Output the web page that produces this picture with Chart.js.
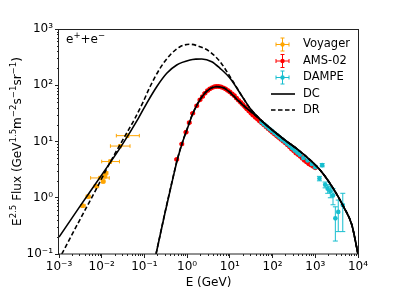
<!DOCTYPE html>
<html>
<head>
<meta charset="utf-8">
<script src="https://cdn.jsdelivr.net/npm/chart.js@4.4.0/dist/chart.umd.min.js"></script>
<style>
  html, body { margin: 0; padding: 0; background: #fff; }
  #wrap { width: 399px; height: 299px; }
</style>
</head>
<body>
<div id="wrap"><canvas id="fluxChart" width="399" height="299"></canvas></div>
<script>
// axis ticks
const xTicks = [1e-3, 1e-2, 1e-1, 1, 10, 100, 1e3, 1e4];
const xTickLabels = ['10⁻³', '10⁻²', '10⁻¹', '10⁰', '10¹', '10²', '10³', '10⁴'];
const yTicks = [0.1, 1, 10, 100, 1000];
const yTickLabels = ['10⁻¹', '10⁰', '10¹', '10²', '10³'];

// Voyager (E in GeV, flux, E range, flux error)
const voyagerE = [0.0036, 0.0048, 0.0075, 0.0092, 0.0108, 0.0118, 0.0125, 0.0158, 0.027, 0.040];
const voyagerFlux = [0.72, 1.05, 1.6, 2.25, 1.95, 2.4, 2.75, 4.4, 8.3, 12.7];
const voyagerELo = [0.0032, 0.0043, 0.0066, 0.0055, 0.0098, 0.0105, 0.011, 0.010, 0.016, 0.022];
const voyagerEHi = [0.0041, 0.0054, 0.0085, 0.015, 0.0120, 0.0132, 0.014, 0.026, 0.046, 0.076];
const voyagerErr = [0.05, 0.07, 0.1, 0.15, 0.13, 0.16, 0.18, 0.3, 0.55, 0.85];

// AMS-02
const amsE = [0.57, 0.75, 0.94, 1.12, 1.35, 1.68, 2.0, 2.3, 2.6, 3.0, 3.4, 3.9, 4.4, 4.9, 5.5, 6.2, 7.0, 7.9, 8.9, 10,
  11.3, 12.7, 14.3, 16, 18, 20, 22.5, 25, 28, 31.5, 35, 40, 45, 50, 56, 63, 71, 80, 90, 100,
  112, 126, 141, 158, 178, 200, 224, 252, 282, 316, 355, 400, 450, 500, 560, 630, 710, 800, 900, 1000];
const amsFlux = [4.8, 9.0, 14.6, 21.6, 31.7, 43, 55, 63, 72, 80, 86, 91, 94, 95, 95, 93, 90, 86, 81, 76,
  70, 65, 59, 54, 49.5, 45.5, 41.5, 38, 34.8, 31.8, 29.2, 26.7, 24.8, 23.0, 21.3, 19.7, 18.1, 16.7, 15.5, 14.5,
  13.5, 12.5, 11.7, 10.9, 10.1, 9.4, 8.7, 8.0, 7.3, 6.8, 6.2, 5.8, 5.4, 5.0, 4.6, 4.3, 4.0, 3.8, 3.6, 3.4];

// DAMPE
const dampeE = [55, 63, 72, 83, 95, 110, 126, 145, 166, 191, 219, 251, 289, 331, 380, 437, 525, 661, 832, 1000,
  1250, 1450, 1700, 1950, 2250, 2600, 2950, 3450, 4400];
const dampeFlux = [22.2, 20.3, 18.5, 16.9, 15.5, 14.2, 13.0, 11.9, 10.9, 10.0, 9.1, 8.4, 7.6, 6.9, 6.35, 5.8, 5.1, 4.6, 4.0, 3.5,
  2.2, 3.8, 1.7, 1.45, 1.3, 1.1, 0.43, 0.56, 0.74];
const dampeErrLo = [0.5, 0.5, 0.4, 0.4, 0.4, 0.35, 0.3, 0.3, 0.3, 0.3, 0.25, 0.25, 0.25, 0.25, 0.25, 0.25, 0.25, 0.25, 0.2, 0.2,
  0.2, 0.25, 0.2, 0.25, 0.3, 0.35, 0.26, 0.31, 0.49];
const dampeErrHi = [0.5, 0.5, 0.4, 0.4, 0.4, 0.35, 0.3, 0.3, 0.3, 0.3, 0.25, 0.25, 0.25, 0.25, 0.25, 0.25, 0.25, 0.25, 0.2, 0.2,
  0.2, 0.25, 0.2, 0.25, 0.3, 0.35, 0.26, 0.35, 0.46];

// model curves: interstellar (LIS) and modulated, DC and DR
const lisDcE = [0.001, 0.003, 0.01, 0.03, 0.072, 0.113, 0.194, 0.333, 0.57, 1.17, 1.6, 2.2, 3.77, 5.9, 10.1, 20.7, 29, 67, 195, 402, 1294, 2650, 4550, 7160, 10000];
const lisDcFlux = [0.2, 0.68, 2.55, 8.7, 25.8, 47.8, 94, 163, 229, 281, 291, 293, 262, 200, 133, 58.6, 40, 20.5, 10.6, 7.06, 3.11, 1.45, 0.7, 0.33, 0.1];
const lisDrE = [0.00116, 0.0031, 0.007, 0.0156, 0.035, 0.060, 0.094, 0.135, 0.232, 0.40, 0.68, 1.17, 2.0, 3.4, 5.9, 10.1, 20.7, 29, 67, 195, 402, 1294, 2650, 4550, 7160, 10000];
const lisDrFlux = [0.1, 0.41, 1.3, 4.2, 12.5, 25.8, 51, 94, 200, 345, 484, 535, 484, 395, 262, 142, 58.6, 40, 20.5, 10.6, 7.06, 3.11, 1.45, 0.7, 0.33, 0.1];
const modE = [0.187, 0.3, 0.45, 0.6, 0.8, 1.0, 1.35, 2.0, 3.0, 4.9, 7.0, 10, 15, 23, 35, 67, 195, 402, 1294, 2650, 4550, 7160, 10000];
const modDcFlux = [0.1, 0.52, 2.0, 5.0, 10.3, 16.5, 31, 55, 80, 94, 90, 75, 55, 41, 31.5, 20.5, 10.6, 7.06, 3.11, 1.45, 0.7, 0.33, 0.1];
const modDrFlux = [0.1, 0.53, 2.05, 5.1, 10.5, 16.8, 31.5, 56, 81, 95, 91, 76, 55.5, 41, 31.5, 20.5, 10.6, 7.06, 3.11, 1.45, 0.7, 0.33, 0.1];

const ORANGE = '#ffa500', RED = '#ff0000', CYAN = '#17becf';
const FONT = '"DejaVu Sans", sans-serif';

const pts = (xs, ys) => xs.map((v, i) => ({ x: v, y: ys[i] }));

const lineDs = (label, xs, ys, dash) => ({
  label: label, data: pts(xs, ys), showLine: true, borderColor: '#000', borderWidth: 1.6,
  borderDash: dash, pointRadius: 0, cubicInterpolationMode: 'monotone', fill: false
});

// error bars, drawn under the datasets
const errorBars = {
  id: 'errorBars',
  beforeDatasetsDraw(chart) {
    const { ctx, chartArea: a, scales: { x, y } } = chart;
    ctx.save();
    ctx.beginPath();
    ctx.rect(a.left, a.top, a.right - a.left, a.bottom - a.top);
    ctx.clip();
    // last dataset first, same order as the markers
    chart.data.datasets.slice().reverse().forEach(ds => {
      const e = ds.errors;
      if (!e) return;
      ctx.strokeStyle = ds.backgroundColor;
      ctx.lineWidth = 1;
      const cap = e.cap;
      ds.data.forEach((p, i) => {
        const px = x.getPixelForValue(p.x), py = y.getPixelForValue(p.y);
        ctx.beginPath();
        if (e.xLo) {
          const x0 = x.getPixelForValue(e.xLo[i]), x1 = x.getPixelForValue(e.xHi[i]);
          ctx.moveTo(x0, py); ctx.lineTo(x1, py);
          ctx.moveTo(x0, py - cap); ctx.lineTo(x0, py + cap);
          ctx.moveTo(x1, py - cap); ctx.lineTo(x1, py + cap);
        }
        const lo = e.yLo[i], hi = e.yHi[i];
        const y0 = y.getPixelForValue(p.y - lo), y1 = y.getPixelForValue(p.y + hi);
        ctx.moveTo(px, y0); ctx.lineTo(px, y1);
        ctx.moveTo(px - cap, y0); ctx.lineTo(px + cap, y0);
        ctx.moveTo(px - cap, y1); ctx.lineTo(px + cap, y1);
        ctx.stroke();
      });
    });
    ctx.restore();
  }
};

function drawParts(ctx, parts, x, y, size, supSize, raise) {
  parts.forEach(([t, sup]) => {
    ctx.font = (sup ? supSize : size) + 'px ' + FONT;
    ctx.fillText(t, x, sup ? y - raise : y);
    x += ctx.measureText(t).width;
  });
}
function partsWidth(ctx, parts, size, supSize) {
  let w = 0;
  parts.forEach(([t, sup]) => { ctx.font = (sup ? supSize : size) + 'px ' + FONT; w += ctx.measureText(t).width; });
  return w;
}

// frame, minor ticks, titles, annotation, legend
const decorations = {
  id: 'decorations',
  afterDraw(chart) {
    const { ctx, chartArea: a, scales: { x, y } } = chart;
    ctx.save();
    ctx.strokeStyle = '#222';
    ctx.lineWidth = 1;
    ctx.strokeRect(Math.round(a.left) - 0.5, Math.round(a.top) + 0.5, Math.round(a.right - a.left) + 1, Math.round(a.bottom - a.top) - 0.5);

    // minor ticks
    ctx.beginPath();
    for (let d = -3; d < 4; d++) {
      for (let m = 2; m < 10; m++) {
        const px = Math.round(x.getPixelForValue(m * Math.pow(10, d))) + 0.5;
        ctx.moveTo(px, a.bottom); ctx.lineTo(px, a.bottom + 2);
      }
    }
    for (let d = -1; d < 3; d++) {
      for (let m = 2; m < 10; m++) {
        const py = Math.round(y.getPixelForValue(m * Math.pow(10, d))) + 0.5;
        ctx.moveTo(a.left, py); ctx.lineTo(a.left - 2, py);
      }
    }
    ctx.stroke();

    ctx.fillStyle = '#000';
    ctx.textBaseline = 'alphabetic';
    // x title
    ctx.font = '12px ' + FONT;
    ctx.textAlign = 'center';
    ctx.fillText('E (GeV)', (a.left + a.right) / 2, 286);
    ctx.textAlign = 'left';

    // y title
    const yParts = [['E', 0], ['2.5', 1], [' Flux (GeV', 0], ['1.5', 1], ['m', 0], ['\u22122', 1], ['s', 0], ['\u22121', 1], ['sr', 0], ['\u22121', 1], [')', 0]];
    const w = partsWidth(ctx, yParts, 12, 8.6);
    ctx.save();
    ctx.translate(21, (a.top + a.bottom) / 2);
    ctx.rotate(-Math.PI / 2);
    drawParts(ctx, yParts, -w / 2, 0, 12, 8.6, 5);
    ctx.restore();

    // e+ + e- annotation
    drawParts(ctx, [['e', 0], ['+', 1], ['+e', 0], ['\u2212', 1]], 66, 43, 12, 8.5, 5);

    // legend
    const items = [
      { label: 'Voyager', color: ORANGE }, { label: 'AMS-02', color: RED }, { label: 'DAMPE', color: CYAN },
      { label: 'DC', dash: [] }, { label: 'DR', dash: [4.5, 2.5] }
    ];
    const rows = [44.5, 61, 77.5, 94, 110];
    ctx.font = '11.5px ' + FONT;
    ctx.textBaseline = 'middle';
    items.forEach((it, i) => {
      const cy = rows[i];
      if (it.color) {
        const cx = 282.5;
        ctx.strokeStyle = it.color; ctx.fillStyle = it.color; ctx.lineWidth = 1; ctx.setLineDash([]);
        ctx.beginPath();
        ctx.moveTo(cx - 6.5, cy); ctx.lineTo(cx + 6.5, cy);
        ctx.moveTo(cx - 6.5, cy - 2); ctx.lineTo(cx - 6.5, cy + 2);
        ctx.moveTo(cx + 6.5, cy - 2); ctx.lineTo(cx + 6.5, cy + 2);
        ctx.moveTo(cx, cy - 6.5); ctx.lineTo(cx, cy + 6.5);
        ctx.moveTo(cx - 2, cy - 6.5); ctx.lineTo(cx + 2, cy - 6.5);
        ctx.moveTo(cx - 2, cy + 6.5); ctx.lineTo(cx + 2, cy + 6.5);
        ctx.stroke();
        ctx.beginPath(); ctx.arc(cx, cy, 2.2, 0, Math.PI * 2); ctx.fill();
      } else {
        ctx.strokeStyle = '#000'; ctx.lineWidth = 1.6; ctx.setLineDash(it.dash);
        ctx.beginPath(); ctx.moveTo(271, cy); ctx.lineTo(295, cy); ctx.stroke();
        ctx.setLineDash([]);
      }
      ctx.fillStyle = '#000';
      ctx.fillText(it.label, 303, cy);
    });
    ctx.restore();
  }
};

const tickFont = { family: FONT, size: 12 };

// first dataset is drawn on top: lines, then DAMPE over AMS-02
new Chart(document.getElementById('fluxChart'), {
  type: 'scatter',
  data: {
    datasets: [
      lineDs('DC', lisDcE, lisDcFlux, []),
      lineDs('DC', modE, modDcFlux, []),
      lineDs('DR', lisDrE, lisDrFlux, [4.5, 2.5]),
      lineDs('DR', modE, modDrFlux, [4.5, 2.5]),
      {
        label: 'DAMPE', data: pts(dampeE, dampeFlux), backgroundColor: CYAN, borderColor: CYAN,
        pointRadius: 2.3, borderWidth: 0,
        errors: { yLo: dampeErrLo, yHi: dampeErrHi, cap: 2.5 }
      },
      {
        label: 'AMS-02', data: pts(amsE, amsFlux), backgroundColor: RED, borderColor: RED,
        pointRadius: 2.4, borderWidth: 0,
        errors: { yLo: amsFlux.map(v => v * 0.03), yHi: amsFlux.map(v => v * 0.03), cap: 2.4 }
      },
      {
        label: 'Voyager', data: pts(voyagerE, voyagerFlux), backgroundColor: ORANGE, borderColor: ORANGE,
        pointRadius: 2.2, borderWidth: 0,
        errors: { xLo: voyagerELo, xHi: voyagerEHi, yLo: voyagerErr, yHi: voyagerErr, cap: 1.8 }
      }
    ]
  },
  options: {
    responsive: false,
    animation: false,
    layout: { padding: { top: 29, right: 41, left: 0, bottom: 0 } },
    plugins: { legend: { display: false }, tooltip: { enabled: false } },
    scales: {
      x: {
        type: 'logarithmic', min: 1e-3, max: 1e4,
        afterBuildTicks: s => { s.ticks = xTicks.map(v => ({ value: v })); },
        afterFit: s => { s.height = 45; },
        ticks: { callback: (v, i) => xTickLabels[i], font: tickFont, color: '#000', padding: 2, maxRotation: 0, autoSkip: false },
        grid: { drawOnChartArea: false, drawTicks: true, tickLength: 4, tickColor: '#222' },
        border: { display: false }
      },
      y: {
        type: 'logarithmic', min: 0.1, max: 1000,
        afterBuildTicks: s => { s.ticks = yTicks.map(v => ({ value: v })); },
        afterFit: s => { s.width = 59; },
        ticks: { callback: (v, i) => yTickLabels[i], font: tickFont, color: '#000', padding: 2, autoSkip: false },
        grid: { drawOnChartArea: false, drawTicks: true, tickLength: 4, tickColor: '#222' },
        border: { display: false }
      }
    }
  },
  plugins: [errorBars, decorations]
});
</script>
</body>
</html>
